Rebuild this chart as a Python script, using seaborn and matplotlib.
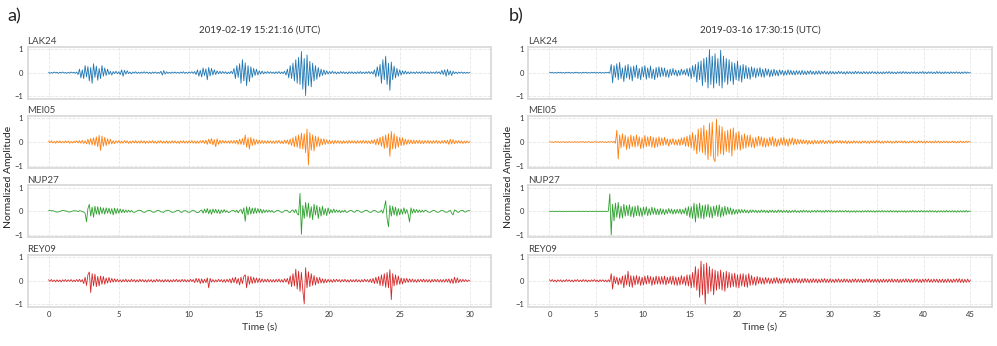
import numpy as np
import pandas as pd
import matplotlib
matplotlib.use("Agg")
import matplotlib.pyplot as plt
import seaborn as sns

stations = ["LAK24", "MEI05", "NUP27", "REY09"]
colors = ["#1f77b4", "#ff7f0e", "#2ca02c", "#d62728"]
event_titles = ["2019-02-19 15:21:16 (UTC)", "2019-03-16 17:30:15 (UTC)"]
panel_labels = ["a)", "b)"]
x_ticks_a = [0, 5, 10, 15, 20, 25, 30]
x_ticks_b = [0, 5, 10, 15, 20, 25, 30, 35, 40, 45]
y_ticks = [-1, 0, 1]

# sample spacing (s) of the values
dt_a = 0.1
dt_b = 0.15

# event a) - normalised amplitude in percent, one row = 2 s
lak24_a = [
    2, -3, 1, -2, 3, -1, 2, -3, 2, -1, 3, -2, 1, -3, 2, -2, 3, -1, 2, -3,
    3, -8, 15, -22, 12, -25, 30, -18, 26, -35, 22, -45, 38, -20, 28, -32, 18, -25, 30, -15,
    20, -12, 15, -8, 6, -10, 5, -4, 6, -5, 4, -8, 12, -15, 10, -6, 8, -4, 3, -5,
    3, -2, 4, -3, 2, -3, 3, -2, 4, -2, 3, -3, 2, -4, 3, -2, 3, -3, 2, -3,
    6, -10, 9, -6, 4, -3, 2, -3, 3, -2, 3, -2, 2, -3, 3, -2, 4, -3, 2, -3,
    3, -2, 4, -3, 5, -8, 12, -15, 10, -18, 20, -12, 16, -30, 22, -14, 18, -10, 12, -8,
    8, -5, 6, -4, 5, -3, 4, -5, 3, -4, 6, -4, 18, -25, 30, -20, 38, -45, 55, -35,
    42, -55, 30, -38, 25, -20, 18, -12, 15, -10, 8, -6, 7, -5, 4, -3, 5, -3, 4, -3,
    3, -4, 4, -3, 5, -4, 3, -4, 6, -10, 15, -22, 30, -25, 40, -35, 55, -45, 65, -50,
    90, -70, 60, -97, 75, -55, 48, -60, 40, -35, 30, -28, 22, -18, 15, -12, 12, -8, 8, -6,
    5, -4, 6, -3, 4, -5, 3, -4, 5, -3, 4, -4, 3, -5, 4, -3, 4, -4, 3, -4,
    4, -3, 5, -4, 3, -4, 4, -3, 5, -4, 4, -6, 12, -18, 25, -15, 35, -45, 55, -30,
    70, -50, 40, -75, 45, -30, 28, -22, 18, -15, 12, -10, 8, -6, 7, -5, 4, -5, 4, -3,
    3, -4, 4, -3, 3, -4, 5, -3, 4, -3, 3, -4, 4, -3, 3, -4, 5, -3, 4, -6,
    10, -8, 12, -15, 14, -10, 8, -12, 6, -4, 3, -4, 3, -2, 3, -3, 2, -3, 2, -2,
    1]
mei05_a = [
    4, -3, 5, -4, 3, -5, 4, -3, 5, -4, 3, -4, 5, -3, 4, -5, 3, -4, 4, -3,
    5, -4, 6, -5, 7, -6, 5, -8, 12, -10, 15, -12, 18, -15, 22, -20, 28, -35, 25, -18,
    20, -15, 14, -10, 12, -8, 6, -7, 5, -4, 6, -5, 4, -5, 6, -4, 5, -6, 4, -5,
    5, -4, 6, -5, 4, -5, 6, -4, 5, -6, 4, -5, 5, -4, 6, -5, 4, -6, 5, -4,
    6, -5, 4, -5, 5, -6, 4, -5, 6, -4, 5, -5, 4, -6, 5, -4, 6, -5, 4, -5,
    5, -4, 6, -5, 4, -6, 5, -5, 6, -4, 7, -6, 8, -10, 12, -8, 15, -12, 10, -20,
    14, -10, 8, -6, 7, -5, 6, -5, 5, -6, 6, -5, 7, -6, 8, -10, 12, -10, 15, -12,
    30, -22, 18, -30, 20, -15, 14, -12, 10, -8, 8, -6, 7, -6, 5, -6, 6, -5, 5, -6,
    5, -6, 6, -5, 7, -6, 5, -7, 8, -6, 9, -10, 12, -15, 18, -20, 25, -22, 30, -28,
    38, -30, 35, -45, 55, -97, 40, -35, 30, -38, 25, -20, 22, -18, 15, -12, 14, -10, 10, -8,
    8, -7, 6, -8, 7, -5, 6, -6, 5, -7, 6, -5, 5, -6, 7, -5, 6, -5, 5, -6,
    6, -5, 5, -6, 7, -5, 6, -6, 5, -7, 8, -6, 10, -12, 15, -12, 20, -18, 25, -28,
    30, -25, 35, -60, 45, -30, 35, -28, 25, -22, 20, -15, 18, -14, 12, -10, 10, -8, 9, -7,
    8, -7, 7, -6, 8, -7, 6, -7, 6, -5, 7, -6, 5, -6, 6, -5, 7, -6, 5, -6,
    6, -5, 7, -6, 8, -10, 12, -8, 10, -7, 6, -5, 6, -5, 5, -6, 4, -5, 5, -4,
    2]
nup27_a = [
    3, 4, 2, 3, 1, -2, -3, -2, -1, 2, 4, 3, 2, 1, -2, -3, -1, 1, 3, 2,
    2, -1, 3, 2, -1, -3, -8, -44, 12, 30, -20, 18, -25, 22, -12, 20, -15, 18, -10, 15,
    -12, 15, -8, 14, -10, 12, -15, 14, -10, 12, -8, 10, -6, 8, -5, 6, -4, 5, -3, 4,
    -3, -4, -2, 2, 4, 5, 3, -2, -4, -3, 2, 3, 4, 2, -3, -4, -2, 3, 4, 2,
    -2, -3, -4, 2, 3, 5, 3, -2, -4, -3, -2, 3, 4, 3, -3, -4, 2, 3, 2, -3,
    -4, -2, 3, 4, 2, -3, -5, -4, 3, 6, -8, 10, -6, 12, -10, 8, -12, 10, -6, 9,
    -8, 7, -10, 6, -5, 8, -4, 3, -5, -3, 2, 4, 3, -3, 5, -6, 4, 8, -10, 15,
    -42, 20, -15, 18, -12, 14, -10, 15, -8, 12, -6, 10, -8, 7, -5, 6, -4, 5, -3, 4,
    -4, -3, 2, 4, 3, -2, -4, -3, 3, 5, 4, -3, -5, 4, 6, -5, 8, -10, -15, 76,
    -97, 25, -30, 38, -22, 35, -28, 20, -35, 30, -15, 25, -30, 18, -20, 22, -15, 12, -18, 15,
    -10, 8, -6, 10, -5, 6, -4, 5, -6, 4, -3, 5, -4, -3, 2, 4, 3, -2, -4, 3,
    4, 2, -3, -4, -2, 3, 5, 3, -2, -4, -3, 3, 4, 2, -3, -4, -2, 5, -8, 15,
    45, -30, -65, 25, -20, 22, -15, 18, -20, 12, -15, 10, -12, 15, -10, 8, -12, -45, 15, -8,
    10, -6, 8, -5, 6, -4, 5, -3, 4, 3, -2, -4, -3, 2, 4, 3, -2, -4, -3, 2,
    4, 3, -2, -4, -3, 2, 4, -8, -15, 6, 4, -3, -4, 2, 3, 4, -2, -3, 2, 3,
    2]
rey09_a = [
    4, -3, 5, -4, 3, -5, 4, -4, 3, -5, 4, -3, 5, -4, 4, -3, 5, -4, 3, -4,
    5, -4, 6, -5, 5, -12, 15, -20, 25, 37, -50, 30, -22, 28, -25, 18, -22, 20, -15, 18,
    -15, 12, -10, 14, -8, 10, -6, 8, -5, 6, -5, 4, -6, 5, -4, 6, -5, 4, -5, 6,
    -4, 5, -6, 4, -5, 6, -4, 5, -5, 4, -6, 5, -4, 5, -6, 4, -5, 6, -4, 5,
    -5, 4, -6, 5, -4, 5, -6, 4, -5, 5, -4, 6, -5, 4, -5, 6, -4, 5, -5, 4,
    -5, 6, -4, 5, -8, 10, -6, 9, -12, 8, -10, 6, -8, 12, -30, 10, -6, 5, -6, 4,
    -5, 6, -4, 5, -6, 5, -7, 6, -5, 8, -10, 12, -8, 15, -12, 10, -18, 15, -12, 18,
    25, -30, 20, -15, 18, -12, 14, -10, 12, -8, 10, -7, 8, -6, 6, -5, 7, -6, 5, -6,
    5, -6, 6, -5, 7, -6, 5, -7, 8, -6, 10, -15, 20, -25, 30, -22, 49, -35, 40, -45,
    35, -40, -97, 55, -30, 38, -25, 30, -20, 22, -18, 15, -12, 14, -10, 8, -10, 7, -8, 6,
    -6, 5, -7, 6, -5, 6, -4, 5, -6, 5, -4, 6, -5, 4, -6, 5, -5, 4, -5, 6,
    -5, 4, -6, 5, -5, 6, -4, 5, -6, 7, -8, 10, -12, 15, -12, 18, -20, 25, -22, 30,
    -28, 35, -30, 47, -80, 30, -22, 25, -18, 20, -15, 12, -14, 10, -8, 10, -7, 8, -6, 7,
    -6, 5, -7, 6, -5, 6, -5, 7, -6, 5, -6, 5, -7, 6, -5, 6, -5, 6, -6, 5,
    -6, 5, -6, 7, -6, 8, -10, 8, -12, 15, -10, 12, -8, 6, -5, 6, -4, 5, -4, 3,
    -2]

# event b) - normalised amplitude in percent, one row = 3 s
lak24_b = [
    2, -1, 2, -2, 1, -2, 2, -1, 2, -2, 1, -2, 2, -1, 2, -2, 1, -2, 2, -1,
    2, -2, 1, -2, 2, -1, 2, -2, 1, -2, 2, -1, 2, -2, 1, -2, 2, -2, 1, -2,
    2, -1, 2, -2, 35, -43, 30, -20, 38, -30, 44, -25, 20, -38, 30, -22, 35, -28, 25, -35,
    28, -20, 32, -25, 18, -30, 25, -18, 30, -28, 20, -22, 28, -25, 15, -30, 22, -20, 25, -18,
    22, -15, 20, -18, 12, -20, 15, -12, 18, -10, 12, -15, 10, -12, 15, -8, 12, -10, 18, -15,
    20, -25, 30, -18, 35, -40, 45, -30, 50, -55, 60, -40, 65, -65, 98, -50, 70, -65, 80, -45,
    60, -55, 95, -65, 70, -40, 60, -50, 55, -35, 45, -50, 40, -30, 50, -35, 30, -40, 35, -25,
    30, -25, 22, -28, 25, -18, 20, -22, 18, -15, 22, -18, 15, -20, 18, -12, 15, -18, 12, -15,
    15, -12, 10, -14, 12, -8, 10, -12, 8, -10, 12, -8, 10, -9, 8, -10, 9, -7, 8, -9,
    10, -8, 7, -9, 8, -6, 9, -7, 6, -8, 7, -6, 8, -7, 6, -5, 7, -6, 5, -7,
    6, -5, 5, -6, 4, -5, 6, -4, 5, -5, 4, -6, 5, -4, 5, -5, 4, -5, 6, -4,
    5, -4, 4, -5, 5, -4, 4, -5, 4, -4, 5, -3, 4, -5, 4, -4, 3, -5, 4, -4,
    4, -3, 5, -4, 4, -4, 3, -5, 4, -3, 4, -4, 5, -3, 4, -4, 3, -4, 4, -3,
    4, -4, 3, -4, 4, -3, 5, -4, 3, -4, 4, -3, 4, -4, 3, -4, 5, -3, 4, -4,
    3, -4, 4, -3, 3, -4, 4, -3, 3, -3, 4, -3, 3, -4, 3, -3, 4, -3, 3, -2,
    1]
mei05_b = [
    2, -1, 1, -2, 2, -1, 2, -2, 1, -1, 2, -2, 1, -2, 2, -1, 1, -2, 2, -1,
    1, -2, 2, -1, 2, -2, 1, -1, 2, -2, 1, -2, 2, -1, 1, -2, 2, -1, 2, -2,
    1, -2, 2, -1, 2, -2, 3, -5, 50, -72, 30, -25, 35, -20, 28, -32, 22, -28, 30, -20,
    25, -22, 30, -18, 22, -28, 18, -25, 28, -20, 22, -18, 25, -22, 20, -25, 18, -20, 22, -15,
    18, -15, 20, -12, 14, -18, 12, -10, 15, -12, 10, -14, 12, -15, 18, -12, 20, -18, 25, -20,
    30, -25, 40, -35, 30, -50, 55, -40, 60, -45, 70, -55, 50, -75, 80, -60, 85, -70, -83, 97,
    -60, 70, -50, 65, -55, 45, -40, 50, -45, 55, -60, 60, -35, 40, -30, 45, -35, 30, -28, 35,
    -25, 28, -20, 30, -22, 18, -25, 20, -18, 25, -15, 22, -20, 18, -22, 15, -18, 20, -15, 22,
    -18, 15, -20, 12, -15, 18, -12, 20, -15, 12, -18, 15, -10, 18, -12, 14, -10, 12, -8, 10,
    -8, 10, -7, 8, -10, 7, -8, 6, -9, 8, -7, 6, -8, 7, -6, 8, -7, 5, -6, 7,
    -6, 5, -7, 6, -5, 6, -4, 7, -6, 5, -5, 6, -7, 5, -6, 4, -5, 6, -5, 4,
    -5, 4, -6, 5, -4, 5, -5, 4, -6, 5, -4, 5, -5, 6, -4, 5, -5, 4, -5, 4,
    -4, 5, -4, 4, -5, 3, -4, 5, -4, 4, -3, 5, -4, 4, -5, 3, -4, 4, -3, 5,
    -4, 3, -4, 5, -3, 4, -4, 3, -5, 4, -3, 4, -4, 3, -4, 5, -3, 4, -4, 3,
    -3, 4, -3, 4, -4, 3, -3, 4, -3, 3, -4, 3, -3, 4, -3, 3, -3, 4, -2, 3,
    -1]
nup27_b = [
    1, -1, 1, 0, -1, 1, -1, 1, 0, -1, 1, -1, 1, -1, 0, 1, -1, 1, -1, 1,
    -1, 1, 0, -1, 1, -1, 1, -1, 0, 1, -1, 1, -1, 1, 0, -1, 1, -1, 1, -1,
    1, -1, 2, 74, -100, 30, -40, 35, -25, 38, -30, 22, -28, 30, -20, 25, -18, 28, -22, 20,
    -25, 22, -18, 25, -20, 15, -22, 18, -15, 20, -18, 12, -15, 18, -12, 15, -14, 10, -15, 12,
    -12, 10, -14, 8, -10, 12, -8, 10, -12, 8, -10, 9, -8, 10, -12, 8, -10, 15, -18, 20,
    -25, 20, -30, 35, -45, 30, -28, 35, -30, 25, -32, 28, -22, 30, -25, 20, -28, 22, -18, 25,
    -22, 28, -25, 18, -20, 22, -15, 18, -12, 15, -14, 10, -12, 8, -10, 9, -7, 8, -6, 7,
    -6, 5, -7, 6, -5, 6, -4, 5, -6, 4, -5, 6, -4, 5, -5, 4, -6, 5, -4, 5,
    -5, 4, -5, 6, -4, 5, -5, 4, -4, 5, -6, 4, -5, 4, -4, 5, -4, 3, -5, 4,
    -4, 5, -3, 4, -4, 3, -5, 4, -3, 4, -4, 5, -3, 4, -4, 3, -4, 5, -3, 4,
    -3, 4, -3, 3, -4, 3, -3, 4, -3, 3, -3, 4, -3, 3, -4, 3, -3, 3, -4, 3,
    -3, 3, -4, 3, -3, 3, -3, 4, -3, 3, -3, 3, -4, 3, -3, 3, -3, 4, -3, 3,
    -3, 3, -3, 4, -3, 3, -3, 3, -4, 3, -3, 3, -3, 3, -4, 3, -3, 3, -3, 4,
    -3, 3, -3, 3, -3, 4, -3, 3, -3, 3, -3, 4, -3, 3, -3, 3, -4, 3, -3, 3,
    -3, 3, -3, 4, -3, 3, -3, 3, -3, 3, -4, 3, -3, 3, -3, 3, -3, 4, -3, 2,
    -1]
rey09_b = [
    4, -3, 5, -4, 3, -5, 4, -3, 4, -5, 3, -4, 5, -3, 4, -4, 3, -5, 4, -3,
    5, -4, 3, -4, 5, -3, 4, -5, 3, -4, 4, -3, 5, -4, 3, -5, 4, -3, 4, -4,
    3, -5, 4, -5, 30, -35, 20, -12, 15, -18, 12, -15, 20, -30, 25, -18, 40, -25, 22, -28,
    20, -18, 22, -15, 18, -20, 15, -18, 20, -15, 22, -12, 18, -20, 15, -16, 20, -14, 18, -15,
    18, -15, 20, -18, 15, -12, 18, -15, 20, -18, 16, -20, 15, -18, 22, -15, 18, -20, 25, -22,
    25, -30, 35, -28, 60, -40, 50, -70, 83, -60, 70, -99, 75, -55, 60, -45, 50, -60, 45, -40,
    40, -35, 45, -40, 35, -45, 40, -30, 35, -28, 30, -25, 32, -28, 25, -30, 28, -22, 30, -25,
    25, -28, 30, -20, 22, -18, 15, -20, 18, -12, 15, -14, 12, -15, 14, -10, 12, -13, 10, -12,
    12, -10, 14, -11, 10, -12, 9, -10, 12, -8, 10, -11, 9, -10, 11, -8, 10, -9, 8, -10,
    9, -8, 10, -7, 8, -9, 7, -8, 9, -7, 8, -9, 7, -8, 8, -7, 9, -8, 7, -8,
    8, -7, 6, -8, 7, -6, 8, -7, 6, -7, 8, -6, 7, -7, 6, -8, 7, -6, 8, -7,
    7, -6, 7, -8, 6, -7, 7, -6, 8, -7, 6, -7, 7, -6, 7, -8, 6, -7, 7, -6,
    6, -7, 7, -6, 8, -7, 6, -6, 7, -8, 6, -7, 7, -6, 8, -6, 7, -7, 6, -7,
    7, -6, 7, -7, 6, -8, 7, -6, 7, -6, 8, -7, 6, -7, 7, -6, 7, -8, 6, -7,
    7, -8, 6, -7, 8, -7, 6, -8, 7, -6, 8, -7, 9, -8, 7, -8, 6, -7, 7, -6,
    3]

traces_a = [lak24_a, mei05_a, nup27_a, rey09_a]
traces_b = [lak24_b, mei05_b, nup27_b, rey09_b]

sns.set_theme(style="whitegrid")
plt.rcParams["font.family"] = ["Lato", "DejaVu Sans"]

fig = plt.figure(figsize=(9.97, 3.46), dpi=100)

panels = [
    (traces_a, dt_a, x_ticks_a, 0.0276, 0.4925),
    (traces_b, dt_b, x_ticks_b, 0.5300, 0.9945),
]

for p, (traces, dt, xt, left, right) in enumerate(panels):
    gs = fig.add_gridspec(4, 1, left=left, right=right, top=0.865,
                          bottom=0.1136, hspace=0.335)
    axes = [fig.add_subplot(gs[i]) for i in range(4)]
    for i, ax in enumerate(axes):
        vals = np.array(traces[i]) / 100.0
        df = pd.DataFrame({"t": np.arange(len(vals)) * dt, "amp": vals})
        sns.lineplot(data=df, x="t", y="amp", ax=ax, color=colors[i],
                     linewidth=0.6, estimator=None)
        ax.set_ylim(-1.1, 1.1)
        ax.set_yticks(y_ticks)
        ax.set_yticklabels(["\u22121", "0", "1"])
        ax.set_xticks(xt)
        ax.set_xlim(-0.05 * xt[-1], 1.05 * xt[-1])
        ax.set_xlabel("")
        ax.set_ylabel("")
        ax.grid(True, color="#e6e6e6", linestyle="--", linewidth=0.6)
        for s in ax.spines.values():
            s.set_color("#dadada")
            s.set_linewidth(1.3)
        ax.tick_params(axis="both", length=0, pad=3, labelsize=5.5,
                       labelcolor="#333333")
        if i < 3:
            ax.set_xticklabels([])
        ax.set_title(stations[i], loc="left", fontsize=7, pad=2,
                     color="#444444")
    xc = (left + right) / 2
    fig.text(xc, 0.913, event_titles[p], ha="center", va="center",
             fontsize=7, color="#333333")
    fig.text(xc, 0.055, "Time (s)", ha="center", va="center",
             fontsize=7.5, color="#333333")
    fig.text(left - 0.0195, 0.489, "Normalized Amplitude", ha="center",
             va="center", rotation=90, fontsize=7.5, color="#222222")
    fig.text(left - 0.02, 0.954, panel_labels[p], ha="left", va="center",
             fontsize=13, color="#222222")

fig.savefig("out.png", dpi=100)
